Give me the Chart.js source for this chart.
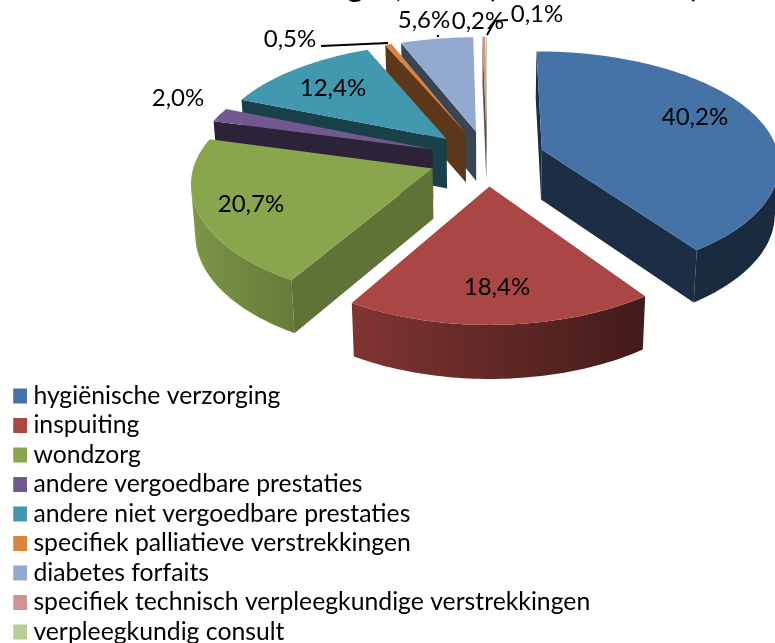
<!DOCTYPE html>
<html><head><meta charset="utf-8">
<style>html,body{margin:0;padding:0;background:#fff;overflow:hidden}
#w{position:absolute;left:0;top:-31px;width:775px;height:680px}</style>
<script src="https://cdn.jsdelivr.net/npm/chart.js@4"></script>
</head><body><div id="w"><canvas id="c"></canvas></div>
<script>
const categories=['hygiënische verzorging','inspuiting','wondzorg','andere vergoedbare prestaties','andere niet vergoedbare prestaties','specifiek palliatieve verstrekkingen','diabetes forfaits','specifiek technisch verpleegkundige verstrekkingen','verpleegkundig consult'];
const values=[40.2,18.4,20.7,2.0,12.4,0.5,5.6,0.2,0.1];
const valueLabels=['40,2%','18,4%','20,7%','2,0%','12,4%','0,5%','5,6%','0,2%','0,1%'];
const colors=['#4572A7','#AA4643','#89A54E','#71588F','#4198AF','#DB843D','#93A9CF','#D19392','#B9CD96'];
const titleText='Aandelen verstrekkingen, 2011 (in % van totaal)';

const S=31, FONT='Lato, Carlito, sans-serif';
const cam={cx:487,cy:158,A:112.8,B:237,k:0.1275,kx:0.11,H:50,kh:0.06,e:0.245,shrink:0.985};
const sideShade=[.4,.4,.7,.4,.42,.42,.4,.5,.5];
const labelPos=[[695,117],[497,287],[251,204],[178,98],[333,88],[290,39],[424,20],[478,21],[537,14]];
const leaders=[[[321,46],[388,43]],[[438,35],[438,37]],[[487,35],[495,21],[508,20]]];

function proj(u,v,low){const d=1-cam.k*v, dx=1-cam.kx*v;
  return [cam.cx+cam.B*u/dx*(low?cam.shrink:1), cam.cy+cam.A*v/d+(low?cam.H/(1-cam.kh*v):0)];}
function shade(hex,f){const n=parseInt(hex.slice(1),16);
  return `rgb(${Math.round((n>>16&255)*f)},${Math.round((n>>8&255)*f)},${Math.round((n&255)*f)})`;}
function poly(ctx,pts,fill){ctx.beginPath();pts.forEach((p,i)=>i?ctx.lineTo(p[0],p[1]):ctx.moveTo(p[0],p[1]));
  ctx.closePath();ctx.fillStyle=fill;ctx.fill();}
function faces(u,v,nu,nv){return (0-u)*nu+(1/cam.k-v)*nv>0;}

const pie3d={id:'pie3d',beforeDatasetsDraw(chart){
  const ctx=chart.ctx, arcs=chart.getDatasetMeta(0).data;
  const items=arcs.map((a,i)=>{const mid=(a.startAngle+a.endAngle)/2;
    return {i,a0:a.startAngle,a1:a.endAngle,ox:cam.e*Math.cos(mid),oy:cam.e*Math.sin(mid)};});
  items.sort((p,q)=>p.oy-q.oy);
  ctx.save();ctx.translate(0,S);
  items.forEach(s=>{
    const col=colors[s.i], n=Math.max(2,Math.ceil((s.a1-s.a0)/0.02));
    const pt=(t,low)=>proj(s.ox+Math.cos(t),s.oy+Math.sin(t),low);
    const tipT=proj(s.ox,s.oy,false), tipB=proj(s.ox,s.oy,true), wall=shade(col,sideShade[s.i]);
    const vis=[];
    for(let j=0;j<=n;j++){const t=s.a0+(s.a1-s.a0)*j/n;
      if(faces(s.ox+Math.cos(t),s.oy+Math.sin(t),Math.cos(t),Math.sin(t)))vis.push(t);}
    if(vis.length>1){
      const tops=vis.map(t=>pt(t,false)), lows=vis.map(t=>pt(t,true)).reverse();
      const xs=tops.map(p=>p[0]), x0=Math.min(...xs), x1=Math.max(...xs);
      const g=ctx.createLinearGradient(x0,0,x1,0);
      vis.forEach((t,j)=>{g.addColorStop(x1>x0?(xs[j]-x0)/(x1-x0):0,shade(col,Math.min(1,Math.max(.38,.58-.34*Math.cos(t)))));});
      poly(ctx,tops.concat(lows),g);
    }
    if(faces(s.ox,s.oy,Math.sin(s.a0),-Math.cos(s.a0)))poly(ctx,[tipT,pt(s.a0,false),pt(s.a0,true),tipB],wall);
    if(faces(s.ox,s.oy,-Math.sin(s.a1),Math.cos(s.a1)))poly(ctx,[tipT,pt(s.a1,false),pt(s.a1,true),tipB],wall);
    const top=[tipT];for(let j=0;j<=n;j++)top.push(pt(s.a0+(s.a1-s.a0)*j/n,false));
    poly(ctx,top,col);
  });
  ctx.strokeStyle='#000';ctx.lineWidth=2;
  leaders.forEach(l=>{ctx.beginPath();l.forEach((p,i)=>i?ctx.lineTo(p[0],p[1]):ctx.moveTo(p[0],p[1]));ctx.stroke();});
  ctx.fillStyle='#000';ctx.font='24px '+FONT;ctx.textAlign='center';ctx.textBaseline='middle';
  valueLabels.forEach((t,i)=>ctx.fillText(t,labelPos[i][0],labelPos[i][1]));
  ctx.restore();
  return false;
}};

new Chart(document.getElementById('c'),{
  type:'pie',
  data:{labels:categories,datasets:[{data:values,backgroundColor:colors,borderWidth:0}]},
  plugins:[pie3d],
  options:{responsive:true,maintainAspectRatio:false,animation:false,
    layout:{padding:{left:13.25,right:26,top:0,bottom:0}},
    plugins:{tooltip:{enabled:false},
      title:{display:true,text:titleText,color:'#000',font:{family:FONT,size:30,weight:'bold'},padding:{top:0,bottom:0}},
      legend:{display:true,position:'left',align:'end',maxWidth:700,
        labels:{color:'#000',boxWidth:3,boxHeight:15,usePointStyle:true,pointStyle:'rect',padding:4.75,font:{family:FONT,size:24.75}}}}
  }
});
</script></body></html>
